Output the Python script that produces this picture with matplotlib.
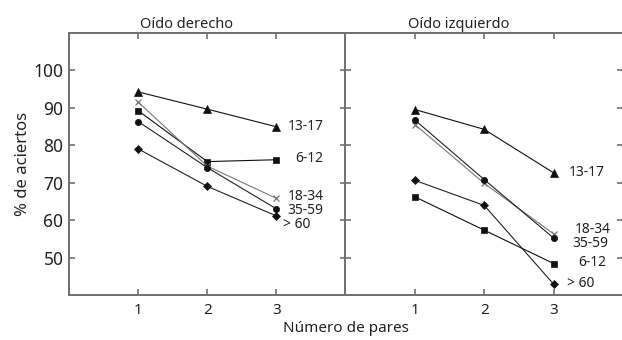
import matplotlib
matplotlib.use("Agg")
import matplotlib.pyplot as plt

plt.rcParams['font.family'] = ['Noto Sans', 'DejaVu Sans']

pares = [1, 2, 3]
groups = ["13-17", "6-12", "18-34", "35-59", "> 60"]

derecho = {
    "13-17": [94.2, 89.6, 84.9],
    "6-12":  [89.2, 75.6, 76.1],
    "18-34": [91.5, 74.4, 65.8],
    "35-59": [86.3, 74.0, 63.0],
    "> 60":  [79.0, 69.0, 61.1],
}
izquierdo = {
    "13-17": [89.5, 84.2, 72.6],
    "6-12":  [66.2, 57.3, 48.4],
    "18-34": [85.5, 69.8, 56.3],
    "35-59": [86.7, 70.8, 55.2],
    "> 60":  [70.6, 63.9, 42.9],
}
yticks = [50, 60, 70, 80, 90, 100]

styles = {
    "13-17": dict(marker='^', ms=5.5, color='#111111', mfc='#111111'),
    "6-12":  dict(marker='s', ms=5, color='#111111', mfc='#111111'),
    "18-34": dict(marker='x', ms=5, color='#777777', mfc='#777777', mew=0.9),
    "35-59": dict(marker='o', ms=4.5, color='#222222', mfc='#111111'),
    "> 60":  dict(marker='D', ms=3.8, color='#222222', mfc='#111111'),
}

# label anchor positions (data units)
lab_left = {"13-17": (3.16, 84.9), "6-12": (3.28, 76.3), "18-34": (3.16, 66.3),
            "35-59": (3.16, 62.6), "> 60": (3.10, 58.8)}
lab_right = {"13-17": (3.22, 72.8), "18-34": (3.30, 57.5), "35-59": (3.27, 53.8),
             "6-12": (3.36, 48.8), "> 60": (3.19, 43.0)}

fig = plt.figure(figsize=(6.22, 3.40), dpi=100)
W, H = 622.0, 340.0
axL = fig.add_axes([69/W, 45/H, 276.5/W, 262.3/H])
axR = fig.add_axes([345.5/W, 45/H, 277.5/W, 262.3/H])

spine_col = '#6f6f6f'
for ax, data, labs, title, tx in [(axL, derecho, lab_left, "Oído derecho", 0.424),
                                  (axR, izquierdo, lab_right, "Oído izquierdo", 0.409)]:
    for g in groups:
        st = styles[g]
        ax.plot(pares, data[g], lw=0.8, color=st['color'], marker=st['marker'],
                ms=st['ms'], mfc=st['mfc'], mec=st['mfc'], mew=st.get('mew', 0.5))
        lx, ly = labs[g]
        ax.text(lx, ly, g, fontsize=10, va='center', ha='left', color='#222222')
    ax.set_xlim(0, 4)
    ax.set_ylim(40, 110)
    ax.set_xticks(pares)
    ax.set_yticks(yticks)
    ax.tick_params(direction='in', length=4, width=1.2, color=spine_col,
                   top=True, right=True, labelsize=11, labelcolor='#222222', pad=6)
    for s in ax.spines.values():
        s.set_color(spine_col)
        s.set_linewidth(1.4)
    ax.text(tx, 1.017, title, transform=ax.transAxes, ha='center', va='baseline',
            fontsize=10.5, color='#222222')

axL.tick_params(axis='y', labelsize=12.5, pad=4)
axR.tick_params(axis='y', labelleft=False)

axL.set_ylabel("% de aciertos", fontsize=12, color='#222222', labelpad=2)
fig.text(346/W, 1 - 328/H, "Número de pares", ha='center', va='center',
         fontsize=11, color='#222222')

fig.savefig("out.png", dpi=100)
